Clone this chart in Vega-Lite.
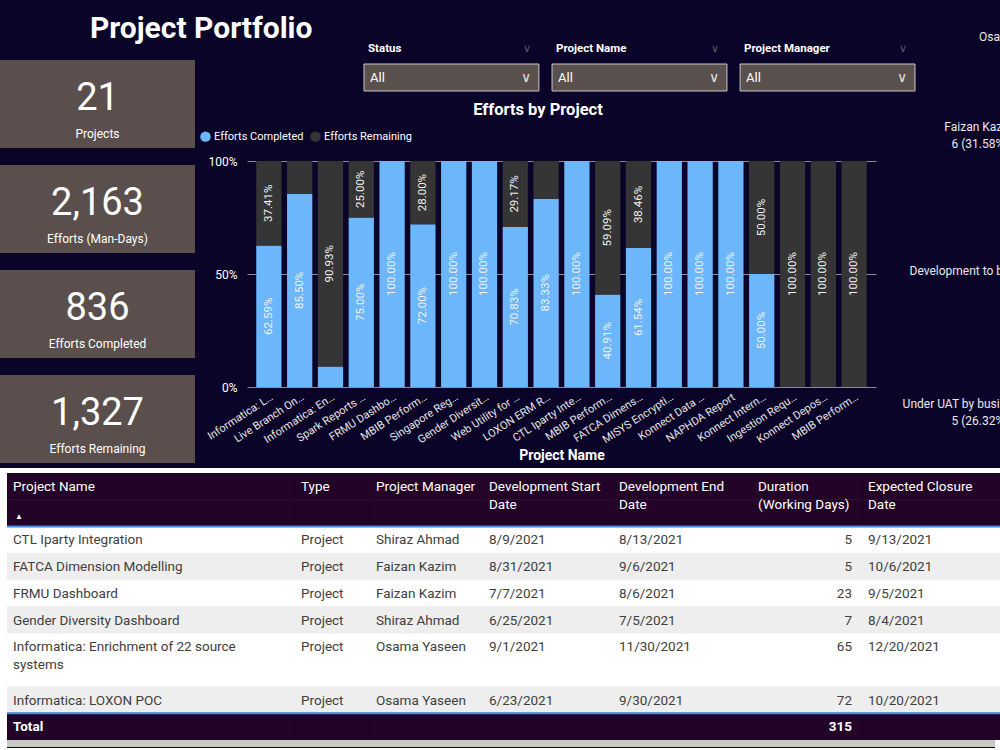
{
"$schema": "https://vega.github.io/schema/vega-lite/v6.json",
"background": "#0a0428",
"padding": {"left": 0, "top": 14, "right": 0, "bottom": 0},
"config": {"view": {"stroke": null}, "font": "Roboto"},
"title": {"text": "Project Portfolio", "anchor": "start", "dx": 90, "fontSize": 30, "fontWeight": "bold", "color": "#ffffff", "offset": -14},
"resolve": {"scale": {"color": "independent"}, "legend": {"color": "independent"}},
"datasets": {
 "efforts": [
  {"project":"Informatica: LOXON POC","status":"Efforts Completed","pct":0.6259},
  {"project":"Informatica: LOXON POC","status":"Efforts Remaining","pct":0.3741},
  {"project":"Live Branch Onboarding","status":"Efforts Completed","pct":0.855},
  {"project":"Live Branch Onboarding","status":"Efforts Remaining","pct":0.145},
  {"project":"Informatica: Enrichment of 22 source systems","status":"Efforts Completed","pct":0.0907},
  {"project":"Informatica: Enrichment of 22 source systems","status":"Efforts Remaining","pct":0.9093},
  {"project":"Spark Reports Automation","status":"Efforts Completed","pct":0.75},
  {"project":"Spark Reports Automation","status":"Efforts Remaining","pct":0.25},
  {"project":"FRMU Dashboard","status":"Efforts Completed","pct":1},
  {"project":"FRMU Dashboard","status":"Efforts Remaining","pct":0},
  {"project":"MBIB Performance Dashboard","status":"Efforts Completed","pct":0.72},
  {"project":"MBIB Performance Dashboard","status":"Efforts Remaining","pct":0.28},
  {"project":"Singapore Regulatory Reporting","status":"Efforts Completed","pct":1},
  {"project":"Singapore Regulatory Reporting","status":"Efforts Remaining","pct":0},
  {"project":"Gender Diversity Dashboard","status":"Efforts Completed","pct":1},
  {"project":"Gender Diversity Dashboard","status":"Efforts Remaining","pct":0},
  {"project":"Web Utility for Branches","status":"Efforts Completed","pct":0.7083},
  {"project":"Web Utility for Branches","status":"Efforts Remaining","pct":0.2917},
  {"project":"LOXON ERM Reporting","status":"Efforts Completed","pct":0.8333},
  {"project":"LOXON ERM Reporting","status":"Efforts Remaining","pct":0.1667},
  {"project":"CTL Iparty Integration","status":"Efforts Completed","pct":1},
  {"project":"CTL Iparty Integration","status":"Efforts Remaining","pct":0},
  {"project":"MBIB Performance Report","status":"Efforts Completed","pct":0.4091},
  {"project":"MBIB Performance Report","status":"Efforts Remaining","pct":0.5909},
  {"project":"FATCA Dimension Modelling","status":"Efforts Completed","pct":0.6154},
  {"project":"FATCA Dimension Modelling","status":"Efforts Remaining","pct":0.3846},
  {"project":"MISYS Encryption","status":"Efforts Completed","pct":1},
  {"project":"MISYS Encryption","status":"Efforts Remaining","pct":0},
  {"project":"Konnect Data Mart","status":"Efforts Completed","pct":1},
  {"project":"Konnect Data Mart","status":"Efforts Remaining","pct":0},
  {"project":"NAPHDA Report","status":"Efforts Completed","pct":1},
  {"project":"NAPHDA Report","status":"Efforts Remaining","pct":0},
  {"project":"Konnect Internet Banking","status":"Efforts Completed","pct":0.5},
  {"project":"Konnect Internet Banking","status":"Efforts Remaining","pct":0.5},
  {"project":"Ingestion Requests","status":"Efforts Completed","pct":0},
  {"project":"Ingestion Requests","status":"Efforts Remaining","pct":1},
  {"project":"Konnect Deposit Scheme","status":"Efforts Completed","pct":0},
  {"project":"Konnect Deposit Scheme","status":"Efforts Remaining","pct":1},
  {"project":"MBIB Performance Tracker","status":"Efforts Completed","pct":0},
  {"project":"MBIB Performance Tracker","status":"Efforts Remaining","pct":1}
 ],
 "kpi": [
  {"label":"Projects","value":21},
  {"label":"Efforts (Man-Days)","value":2163},
  {"label":"Efforts Completed","value":836},
  {"label":"Efforts Remaining","value":1327}
 ],
 "tbl": [
  {"name":"CTL Iparty Integration","type":"Project","pm":"Shiraz Ahmad","start":"8/9/2021","end":"8/13/2021","dur":5,"close":"9/13/2021"},
  {"name":"FATCA Dimension Modelling","type":"Project","pm":"Faizan Kazim","start":"8/31/2021","end":"9/6/2021","dur":5,"close":"10/6/2021"},
  {"name":"FRMU Dashboard","type":"Project","pm":"Faizan Kazim","start":"7/7/2021","end":"8/6/2021","dur":23,"close":"9/5/2021"},
  {"name":"Gender Diversity Dashboard","type":"Project","pm":"Shiraz Ahmad","start":"6/25/2021","end":"7/5/2021","dur":7,"close":"8/4/2021"},
  {"name":"Informatica: Enrichment of 22 source\nsystems","type":"Project","pm":"Osama Yaseen","start":"9/1/2021","end":"11/30/2021","dur":65,"close":"12/20/2021"},
  {"name":"Informatica: LOXON POC","type":"Project","pm":"Osama Yaseen","start":"6/23/2021","end":"9/30/2021","dur":72,"close":"10/20/2021"}
 ],
 "bg": [
  {"name":"_h1"},{"name":"_h2"},{"name":"FATCA Dimension Modelling"},{"name":"Gender Diversity Dashboard"},{"name":"Informatica: LOXON POC"},{"name":"Total"}
 ]
},
"vconcat": [
 {"hconcat": [
   {"vconcat": [
     {"width":195,"height":30,"data":{"values":[]},"mark":"point"},
     {"width":195,"height":403,"data":{"name":"kpi"},
      "encoding":{"y":{"field":"label","type":"nominal","sort":null,"scale":{"paddingInner":0.162,"paddingOuter":0},"axis":null}},
      "layer":[
       {"mark":{"type":"rect","fill":"#5a4f4c"}},
       {"mark":{"type":"text","fontSize":38,"color":"#ffffff","dy":-5},"encoding":{"text":{"field":"value","type":"quantitative","format":","}}},
       {"mark":{"type":"text","fontSize":12,"color":"#ffffff","dy":30},"encoding":{"text":{"field":"label"}}}
      ]},
     {"width":195,"height":5,"data":{"values":[]},"mark":"point"}
    ], "spacing":0},
   {"hconcat": [
     {"vconcat": [
       {"width":1,"height":12,"data":{"values":[]},"mark":"point"},
       {"hconcat": [
         {"width":116,"height":27,"data":{"values":[]},"mark":"point"},
         {"width":551,"height":27,
          "data":{"values":[{"s":"Status"},{"s":"Project Name"},{"s":"Project Manager"}]},
          "layer":[
           {"mark":{"type":"rect","fill":"#5a504e","stroke":"#c8c8c8","strokeWidth":1},
            "encoding":{"x":{"field":"s","type":"nominal","sort":null,"scale":{"paddingInner":0.07,"paddingOuter":0},"axis":null}}},
           {"mark":{"type":"text","text":"All","align":"left","baseline":"middle","dx":6,"color":"#ffffff","fontSize":13},
            "encoding":{"x":{"field":"s","type":"nominal","sort":null,"bandPosition":0,"axis":null}}},
           {"mark":{"type":"text","text":"∨","align":"right","baseline":"middle","dx":-8,"color":"#e0e0e0","fontSize":14},
            "encoding":{"x":{"field":"s","type":"nominal","sort":null,"bandPosition":1,"axis":null}}},
           {"mark":{"type":"text","align":"left","baseline":"middle","dx":4,"dy":-29,"color":"#ffffff","fontSize":11.5,"fontWeight":"bold"},
            "encoding":{"x":{"field":"s","type":"nominal","sort":null,"bandPosition":0,"axis":null},"text":{"field":"s"}}},
           {"mark":{"type":"text","text":"∨","align":"right","baseline":"middle","dx":-8,"dy":-29,"color":"#5a5a6e","fontSize":11},
            "encoding":{"x":{"field":"s","type":"nominal","sort":null,"bandPosition":1,"axis":null}}}
          ]}
        ], "spacing":0},
       {"width":1,"height":9,"data":{"values":[]},"mark":"point"},
       {"width":629,"height":226,"data":{"name":"efforts"},
        "title":{"text":"Efforts by Project","color":"#ffffff","fontSize":16.5,"fontWeight":"bold","offset":13,"frame":"bounds"},
        "encoding":{"x":{"field":"project","type":"nominal","sort":null,"scale":{"paddingInner":0.18,"paddingOuter":0.3},
          "axis":{"labelAngle":-33,"labelColor":"#e6e6e6","labelFontSize":11,"labelLimit":82,"domain":false,"ticks":false,"labelPadding":4,"title":"Project Name","titleColor":"#ffffff","titleFontSize":14,"titleFontWeight":"bold","titlePadding":4}}},
        "layer":[
         {"mark":{"type":"bar"},
          "encoding":{
           "y":{"field":"pct","type":"quantitative","stack":"zero","scale":{"domain":[0,1]},
             "axis":{"values":[0,0.5,1],"format":".0%","labelColor":"#ffffff","labelFontSize":12,"labelPadding":10,"domain":false,"ticks":false,"grid":true,"gridColor":"#8a8a9a","gridWidth":1,"title":null}},
           "color":{"field":"status","type":"nominal","scale":{"domain":["Efforts Completed","Efforts Remaining"],"range":["#6cb6fb","#353535"]},
             "legend":{"orient":"none","legendX":-47,"legendY":-30,"direction":"horizontal","title":null,"symbolType":"circle","symbolSize":110,"symbolStrokeWidth":0,"labelColor":"#ffffff","labelFontSize":11,"columnPadding":6,"labelOffset":3}},
           "order":{"field":"status","sort":"ascending"}}},
         {"mark":{"type":"text","angle":270,"color":"#f2f2f2","fontSize":11.5,"baseline":"middle","align":"center"},
          "encoding":{
           "y":{"field":"pct","type":"quantitative","stack":"zero","bandPosition":0.5},
           "detail":{"field":"status"},
           "order":{"field":"status","sort":"ascending"},
           "text":{"field":"pct","type":"quantitative","format":".2%"},
           "opacity":{"condition":{"test":"datum.pct < 0.2","value":0},"value":1}}}
        ]}
      ], "spacing":0, "resolve": {"scale": {"color": "independent"}, "legend": {"color": "independent"}}},
     {"vconcat": [
       {"width":40,"height":14,"data":{"values":[{"t":"Osama Yaseen"}]},"mark":{"type":"text","align":"left","dx":-1,"color":"#e8e8e8","fontSize":12},"encoding":{"text":{"field":"t"}}},
       {"width":40,"height":165,"data":{"values":[{"t":"Faizan Kazim\n6 (31.58%)"}]},"mark":{"type":"text","lineBreak":"\n","lineHeight":17,"color":"#e8e8e8","fontSize":12},"encoding":{"text":{"field":"t"}}},
       {"width":40,"height":124,"data":{"values":[{"t":"Development to be started"}]},"mark":{"type":"text","color":"#e8e8e8","fontSize":12},"encoding":{"text":{"field":"t"}}},
       {"width":40,"height":130,"data":{"values":[{"t":"Under UAT by business users\n5 (26.32%)"}]},"mark":{"type":"text","lineBreak":"\n","lineHeight":17,"dy":6,"color":"#e8e8e8","fontSize":12},"encoding":{"text":{"field":"t"}}}
      ], "spacing":0}
    ], "spacing":-14, "resolve": {"scale": {"color": "independent"}, "legend": {"color": "independent"}}}
  ], "spacing":5, "resolve": {"scale": {"color": "independent"}, "legend": {"color": "independent"}}},
 {"width":1012,"height":5,"data":{"values":[]},"mark":"point","view":{"fill":"#ffffff"}},
 {"hconcat": [
   {"width":7,"height":267,"data":{"values":[]},"mark":"point","view":{"fill":"#ffffff"}},
   {"width":288,"height":267,"view":{"fill":"#ffffff"},"layer":[
     {"data":{"name":"bg"},"mark":{"type":"rect","strokeWidth":0.6,"clip":true},"encoding":{"y":{"field":"name","type":"nominal","scale":{"domain":["_h1","_h2","CTL Iparty Integration","FATCA Dimension Modelling","FRMU Dashboard","Gender Diversity Dashboard","Informatica: Enrichment of 22 source\nsystems","_gap","Informatica: LOXON POC","Total"],"paddingInner":0,"paddingOuter":0},"axis":null},"x":{"datum":0,"type":"quantitative","scale":{"domain":[0,1],"zero":false,"nice":false},"axis":null},"x2":{"datum":1},"fill":{"condition":{"test":"datum.name == '_h1' || datum.name == '_h2' || datum.name == 'Total'","value":"#230428"},"value":"#eeeeee"},"stroke":{"condition":{"test":"datum.name == '_h1' || datum.name == '_h2' || datum.name == 'Total'","value":"#230428"},"value":"#eeeeee"}}},
     {"data":{"values":[{"name":"CTL Iparty Integration"},{"name":"Total"}]},"mark":{"type":"rule","color":"#3a8ee6","strokeWidth":2,"clip":true},"encoding":{"y":{"field":"name","type":"nominal","bandPosition":0},"x":{"datum":0,"type":"quantitative"},"x2":{"datum":1}}},
     {"data":{"values":[{"name":"_h1"}]},"mark":{"type":"text","text":"Project Name","align":"left","baseline":"top","dx":6,"dy":7,"color":"#ffffff","fontSize":13.5},"encoding":{"y":{"field":"name","type":"nominal","bandPosition":0},"x":{"datum":0,"type":"quantitative"}}},
     {"data":{"values":[{"name":"_h2"}]},"mark":{"type":"text","text":"▲","align":"left","baseline":"top","dx":8,"dy":13,"color":"#ffffff","fontSize":8},"encoding":{"y":{"field":"name","type":"nominal","bandPosition":0},"x":{"datum":0,"type":"quantitative"}}},
     {"data":{"name":"tbl"},"mark":{"type":"text","align":"left","baseline":"top","dx":6,"dy":7,"color":"#404040","fontSize":13.5,"lineBreak":"\n","lineHeight":18},"encoding":{"y":{"field":"name","type":"nominal","bandPosition":0},"x":{"datum":0,"type":"quantitative"},"text":{"field":"name"}}},
     {"data":{"values":[{"name":"Total"}]},"mark":{"type":"text","text":"Total","align":"left","baseline":"top","dx":6,"dy":7,"color":"#ffffff","fontSize":13.5,"fontWeight":"bold"},"encoding":{"y":{"field":"name","type":"nominal","bandPosition":0},"x":{"datum":0,"type":"quantitative"}}}
   ]},
   {"width":75,"height":267,"view":{"fill":"#ffffff"},"layer":[
     {"data":{"name":"bg"},"mark":{"type":"rect","strokeWidth":0.6,"clip":true},"encoding":{"y":{"field":"name","type":"nominal","scale":{"domain":["_h1","_h2","CTL Iparty Integration","FATCA Dimension Modelling","FRMU Dashboard","Gender Diversity Dashboard","Informatica: Enrichment of 22 source\nsystems","_gap","Informatica: LOXON POC","Total"],"paddingInner":0,"paddingOuter":0},"axis":null},"x":{"datum":0,"type":"quantitative","scale":{"domain":[0,1],"zero":false,"nice":false},"axis":null},"x2":{"datum":1},"fill":{"condition":{"test":"datum.name == '_h1' || datum.name == '_h2' || datum.name == 'Total'","value":"#230428"},"value":"#eeeeee"},"stroke":{"condition":{"test":"datum.name == '_h1' || datum.name == '_h2' || datum.name == 'Total'","value":"#230428"},"value":"#eeeeee"}}},
     {"data":{"values":[{"name":"CTL Iparty Integration"},{"name":"Total"}]},"mark":{"type":"rule","color":"#3a8ee6","strokeWidth":2,"clip":true},"encoding":{"y":{"field":"name","type":"nominal","bandPosition":0},"x":{"datum":0,"type":"quantitative"},"x2":{"datum":1}}},
     {"data":{"values":[{"name":"_h1"}]},"mark":{"type":"text","text":"Type","align":"left","baseline":"top","dx":6,"dy":7,"color":"#ffffff","fontSize":13.5},"encoding":{"y":{"field":"name","type":"nominal","bandPosition":0},"x":{"datum":0,"type":"quantitative"}}},
     {"data":{"name":"tbl"},"mark":{"type":"text","align":"left","baseline":"top","dx":6,"dy":7,"color":"#404040","fontSize":13.5},"encoding":{"y":{"field":"name","type":"nominal","bandPosition":0},"x":{"datum":0,"type":"quantitative"},"text":{"field":"type"}}}
   ]},
   {"width":113,"height":267,"view":{"fill":"#ffffff"},"layer":[
     {"data":{"name":"bg"},"mark":{"type":"rect","strokeWidth":0.6,"clip":true},"encoding":{"y":{"field":"name","type":"nominal","scale":{"domain":["_h1","_h2","CTL Iparty Integration","FATCA Dimension Modelling","FRMU Dashboard","Gender Diversity Dashboard","Informatica: Enrichment of 22 source\nsystems","_gap","Informatica: LOXON POC","Total"],"paddingInner":0,"paddingOuter":0},"axis":null},"x":{"datum":0,"type":"quantitative","scale":{"domain":[0,1],"zero":false,"nice":false},"axis":null},"x2":{"datum":1},"fill":{"condition":{"test":"datum.name == '_h1' || datum.name == '_h2' || datum.name == 'Total'","value":"#230428"},"value":"#eeeeee"},"stroke":{"condition":{"test":"datum.name == '_h1' || datum.name == '_h2' || datum.name == 'Total'","value":"#230428"},"value":"#eeeeee"}}},
     {"data":{"values":[{"name":"CTL Iparty Integration"},{"name":"Total"}]},"mark":{"type":"rule","color":"#3a8ee6","strokeWidth":2,"clip":true},"encoding":{"y":{"field":"name","type":"nominal","bandPosition":0},"x":{"datum":0,"type":"quantitative"},"x2":{"datum":1}}},
     {"data":{"values":[{"name":"_h1"}]},"mark":{"type":"text","text":"Project Manager","align":"left","baseline":"top","dx":6,"dy":7,"color":"#ffffff","fontSize":13.5},"encoding":{"y":{"field":"name","type":"nominal","bandPosition":0},"x":{"datum":0,"type":"quantitative"}}},
     {"data":{"name":"tbl"},"mark":{"type":"text","align":"left","baseline":"top","dx":6,"dy":7,"color":"#404040","fontSize":13.5},"encoding":{"y":{"field":"name","type":"nominal","bandPosition":0},"x":{"datum":0,"type":"quantitative"},"text":{"field":"pm"}}}
   ]},
   {"width":130,"height":267,"view":{"fill":"#ffffff"},"layer":[
     {"data":{"name":"bg"},"mark":{"type":"rect","strokeWidth":0.6,"clip":true},"encoding":{"y":{"field":"name","type":"nominal","scale":{"domain":["_h1","_h2","CTL Iparty Integration","FATCA Dimension Modelling","FRMU Dashboard","Gender Diversity Dashboard","Informatica: Enrichment of 22 source\nsystems","_gap","Informatica: LOXON POC","Total"],"paddingInner":0,"paddingOuter":0},"axis":null},"x":{"datum":0,"type":"quantitative","scale":{"domain":[0,1],"zero":false,"nice":false},"axis":null},"x2":{"datum":1},"fill":{"condition":{"test":"datum.name == '_h1' || datum.name == '_h2' || datum.name == 'Total'","value":"#230428"},"value":"#eeeeee"},"stroke":{"condition":{"test":"datum.name == '_h1' || datum.name == '_h2' || datum.name == 'Total'","value":"#230428"},"value":"#eeeeee"}}},
     {"data":{"values":[{"name":"CTL Iparty Integration"},{"name":"Total"}]},"mark":{"type":"rule","color":"#3a8ee6","strokeWidth":2,"clip":true},"encoding":{"y":{"field":"name","type":"nominal","bandPosition":0},"x":{"datum":0,"type":"quantitative"},"x2":{"datum":1}}},
     {"data":{"values":[{"name":"_h1"}]},"mark":{"type":"text","text":["Development Start","Date"],"lineHeight":18,"align":"left","baseline":"top","dx":6,"dy":7,"color":"#ffffff","fontSize":13.5},"encoding":{"y":{"field":"name","type":"nominal","bandPosition":0},"x":{"datum":0,"type":"quantitative"}}},
     {"data":{"name":"tbl"},"mark":{"type":"text","align":"left","baseline":"top","dx":6,"dy":7,"color":"#404040","fontSize":13.5},"encoding":{"y":{"field":"name","type":"nominal","bandPosition":0},"x":{"datum":0,"type":"quantitative"},"text":{"field":"start"}}}
   ]},
   {"width":139,"height":267,"view":{"fill":"#ffffff"},"layer":[
     {"data":{"name":"bg"},"mark":{"type":"rect","strokeWidth":0.6,"clip":true},"encoding":{"y":{"field":"name","type":"nominal","scale":{"domain":["_h1","_h2","CTL Iparty Integration","FATCA Dimension Modelling","FRMU Dashboard","Gender Diversity Dashboard","Informatica: Enrichment of 22 source\nsystems","_gap","Informatica: LOXON POC","Total"],"paddingInner":0,"paddingOuter":0},"axis":null},"x":{"datum":0,"type":"quantitative","scale":{"domain":[0,1],"zero":false,"nice":false},"axis":null},"x2":{"datum":1},"fill":{"condition":{"test":"datum.name == '_h1' || datum.name == '_h2' || datum.name == 'Total'","value":"#230428"},"value":"#eeeeee"},"stroke":{"condition":{"test":"datum.name == '_h1' || datum.name == '_h2' || datum.name == 'Total'","value":"#230428"},"value":"#eeeeee"}}},
     {"data":{"values":[{"name":"CTL Iparty Integration"},{"name":"Total"}]},"mark":{"type":"rule","color":"#3a8ee6","strokeWidth":2,"clip":true},"encoding":{"y":{"field":"name","type":"nominal","bandPosition":0},"x":{"datum":0,"type":"quantitative"},"x2":{"datum":1}}},
     {"data":{"values":[{"name":"_h1"}]},"mark":{"type":"text","text":["Development End","Date"],"lineHeight":18,"align":"left","baseline":"top","dx":6,"dy":7,"color":"#ffffff","fontSize":13.5},"encoding":{"y":{"field":"name","type":"nominal","bandPosition":0},"x":{"datum":0,"type":"quantitative"}}},
     {"data":{"name":"tbl"},"mark":{"type":"text","align":"left","baseline":"top","dx":6,"dy":7,"color":"#404040","fontSize":13.5},"encoding":{"y":{"field":"name","type":"nominal","bandPosition":0},"x":{"datum":0,"type":"quantitative"},"text":{"field":"end"}}}
   ]},
   {"width":110,"height":267,"view":{"fill":"#ffffff"},"layer":[
     {"data":{"name":"bg"},"mark":{"type":"rect","strokeWidth":0.6,"clip":true},"encoding":{"y":{"field":"name","type":"nominal","scale":{"domain":["_h1","_h2","CTL Iparty Integration","FATCA Dimension Modelling","FRMU Dashboard","Gender Diversity Dashboard","Informatica: Enrichment of 22 source\nsystems","_gap","Informatica: LOXON POC","Total"],"paddingInner":0,"paddingOuter":0},"axis":null},"x":{"datum":0,"type":"quantitative","scale":{"domain":[0,1],"zero":false,"nice":false},"axis":null},"x2":{"datum":1},"fill":{"condition":{"test":"datum.name == '_h1' || datum.name == '_h2' || datum.name == 'Total'","value":"#230428"},"value":"#eeeeee"},"stroke":{"condition":{"test":"datum.name == '_h1' || datum.name == '_h2' || datum.name == 'Total'","value":"#230428"},"value":"#eeeeee"}}},
     {"data":{"values":[{"name":"CTL Iparty Integration"},{"name":"Total"}]},"mark":{"type":"rule","color":"#3a8ee6","strokeWidth":2,"clip":true},"encoding":{"y":{"field":"name","type":"nominal","bandPosition":0},"x":{"datum":0,"type":"quantitative"},"x2":{"datum":1}}},
     {"data":{"values":[{"name":"_h1"}]},"mark":{"type":"text","text":["Duration","(Working Days)"],"lineHeight":18,"align":"left","baseline":"top","dx":6,"dy":7,"color":"#ffffff","fontSize":13.5},"encoding":{"y":{"field":"name","type":"nominal","bandPosition":0},"x":{"datum":0,"type":"quantitative"}}},
     {"data":{"name":"tbl"},"mark":{"type":"text","align":"right","baseline":"top","dx":-10,"dy":7,"color":"#404040","fontSize":13.5},"encoding":{"y":{"field":"name","type":"nominal","bandPosition":0},"x":{"datum":1,"type":"quantitative"},"text":{"field":"dur","type":"quantitative"}}},
     {"data":{"values":[{"name":"Total"}]},"mark":{"type":"text","text":"315","align":"right","baseline":"top","dx":-10,"dy":7,"color":"#ffffff","fontSize":13.5,"fontWeight":"bold"},"encoding":{"y":{"field":"name","type":"nominal","bandPosition":0},"x":{"datum":1,"type":"quantitative"}}}
   ]},
   {"width":150,"height":267,"view":{"fill":"#ffffff"},"layer":[
     {"data":{"name":"bg"},"mark":{"type":"rect","strokeWidth":0.6,"clip":true},"encoding":{"y":{"field":"name","type":"nominal","scale":{"domain":["_h1","_h2","CTL Iparty Integration","FATCA Dimension Modelling","FRMU Dashboard","Gender Diversity Dashboard","Informatica: Enrichment of 22 source\nsystems","_gap","Informatica: LOXON POC","Total"],"paddingInner":0,"paddingOuter":0},"axis":null},"x":{"datum":0,"type":"quantitative","scale":{"domain":[0,1],"zero":false,"nice":false},"axis":null},"x2":{"datum":1},"fill":{"condition":{"test":"datum.name == '_h1' || datum.name == '_h2' || datum.name == 'Total'","value":"#230428"},"value":"#eeeeee"},"stroke":{"condition":{"test":"datum.name == '_h1' || datum.name == '_h2' || datum.name == 'Total'","value":"#230428"},"value":"#eeeeee"}}},
     {"data":{"values":[{"name":"CTL Iparty Integration"},{"name":"Total"}]},"mark":{"type":"rule","color":"#3a8ee6","strokeWidth":2,"clip":true},"encoding":{"y":{"field":"name","type":"nominal","bandPosition":0},"x":{"datum":0,"type":"quantitative"},"x2":{"datum":1}}},
     {"data":{"values":[{"name":"_h1"}]},"mark":{"type":"text","text":["Expected Closure","Date"],"lineHeight":18,"align":"left","baseline":"top","dx":6,"dy":7,"color":"#ffffff","fontSize":13.5},"encoding":{"y":{"field":"name","type":"nominal","bandPosition":0},"x":{"datum":0,"type":"quantitative"}}},
     {"data":{"name":"tbl"},"mark":{"type":"text","align":"left","baseline":"top","dx":6,"dy":7,"color":"#404040","fontSize":13.5},"encoding":{"y":{"field":"name","type":"nominal","bandPosition":0},"x":{"datum":0,"type":"quantitative"},"text":{"field":"close"}}}
   ]}
  ], "spacing":0},
 {"hconcat": [
   {"width":7,"height":8,"data":{"values":[]},"mark":"point","view":{"fill":"#ffffff"}},
   {"width":988,"height":7,"data":{"values":[]},"mark":"point","view":{"fill":"#c8c8c8"}},
   {"width":17,"height":8,"data":{"values":[]},"mark":"point","view":{"fill":"#ffffff"}}
  ], "spacing":0}
],
"spacing": 0
}
